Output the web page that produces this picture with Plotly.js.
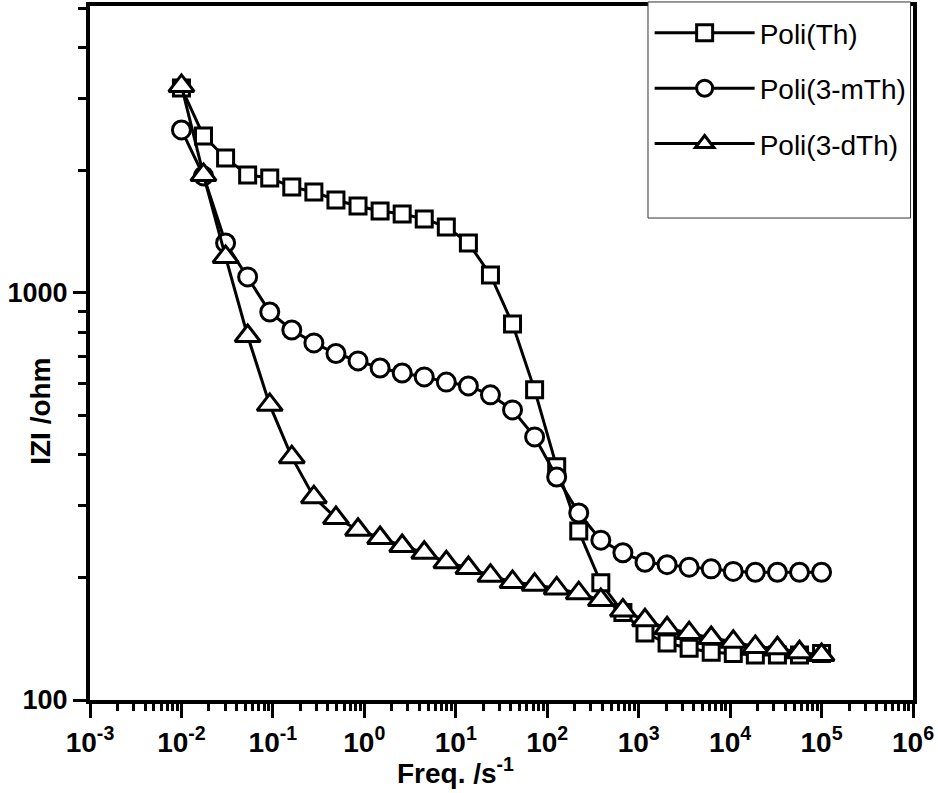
<!DOCTYPE html>
<html>
<head>
<meta charset="utf-8">
<script src="https://cdn.plot.ly/plotly-3.0.1.min.js"></script>
<style>html,body{margin:0;padding:0;background:#fff;}#chart{width:938px;height:793px;}</style>
</head>
<body>
<div id="chart"></div>
<script>
// Frequency (s^-1)
var freq = [0.01, 0.01742, 0.03039, 0.05298, 0.09237, 0.1610, 0.2807, 0.4894, 0.8532, 1.487,
            2.593, 4.520, 7.880, 13.74, 23.95, 41.75, 72.79, 126.9, 221.2, 385.7,
            672.4, 1172, 2044, 3563, 6212, 10830, 18880, 32910, 57380, 100000];
// |Z| (ohm) for each polymer
var zPoliTh = [3190, 2431, 2146, 1950, 1917, 1822, 1771, 1692, 1636, 1590,
               1564, 1520, 1453, 1327, 1107, 839, 578, 374, 260, 194,
               164, 146, 138, 134, 131, 130, 129, 129, 129, 130];
var zPoli3mTh = [2515, 1939, 1327, 1095, 898, 811, 754, 710, 681, 654,
                 636, 622, 604, 591, 562, 516, 443, 353, 288, 247,
                 230, 218, 215, 212, 210, 207, 206, 206, 206, 206];
var zPoli3dTh = [3226, 1950, 1226, 784, 531, 395, 315, 280, 262, 250,
                 239, 230, 218, 211, 202, 195, 192, 188, 183, 176,
                 166, 157, 150, 146, 142, 139, 135, 134, 131, 129];
var seriesNames = ['Poli(Th)', 'Poli(3-mTh)', 'Poli(3-dTh)'];
var xTickVals = [1e-3, 1e-2, 1e-1, 1, 10, 100, 1e3, 1e4, 1e5, 1e6];
var xTickText = ['10<sup>-3</sup>', '10<sup>-2</sup>', '10<sup>-1</sup>', '10<sup>0</sup>', '10<sup>1</sup>',
                 '10<sup>2</sup>', '10<sup>3</sup>', '10<sup>4</sup>', '10<sup>5</sup>', '10<sup>6</sup>'];
var yTickVals = [100, 1000];
var yTickText = ['100', '1000'];
var xTitle = 'Freq. /s<sup>-1</sup>';
var yTitle = 'IZI /ohm';

var FONT = 'Liberation Sans, Arial, sans-serif';
function mk(y, name, symbol, size, grp) {
  return {
    x: freq, y: y, name: name, type: 'scatter', mode: 'lines+markers',
    legendgroup: grp,
    line: {color: '#000', width: 3},
    marker: {symbol: symbol, size: size, color: '#fff', line: {color: '#000', width: 3}}
  };
}
var data = [
  mk(zPoliTh, seriesNames[0], 'square', 16, 'a'),
  mk(zPoli3mTh, seriesNames[1], 'circle', 18, 'b'),
  mk(zPoli3dTh, seriesNames[2], 'triangle-up', 22, 'c')
];
var layout = {
  width: 938, height: 793,
  margin: {l: 90, r: 25, t: 6, b: 93},
  paper_bgcolor: '#fff', plot_bgcolor: '#fff',
  font: {family: FONT, color: '#000'},
  showlegend: true,
  xaxis: {
    type: 'log', range: [-3, 6],
    tickmode: 'array', tickvals: xTickVals, ticktext: xTickText,
    tickfont: {size: 28, family: FONT, weight: 'bold'},
    ticks: 'outside', ticklen: 14, tickwidth: 3, tickcolor: '#000',
    minor: {dtick: 'D1', ticks: 'outside', ticklen: 7, tickwidth: 3, tickcolor: '#000', showgrid: false},
    showline: true, linewidth: 4, linecolor: '#000', mirror: true,
    showgrid: false, zeroline: false
  },
  yaxis: {
    type: 'log', range: [2, 3.705],
    tickmode: 'array', tickvals: yTickVals, ticktext: yTickText,
    tickfont: {size: 27, family: FONT, weight: 'bold'},
    ticks: 'outside', ticklen: 13, tickwidth: 3, tickcolor: '#000',
    minor: {dtick: 'D1', ticks: 'outside', ticklen: 8, tickwidth: 3, tickcolor: '#000', showgrid: false},
    showline: true, linewidth: 4, linecolor: '#000', mirror: true,
    showgrid: false, zeroline: false
  },
  legend: {
    x: 0.68, y: 0.997, xanchor: 'left', yanchor: 'top',
    bgcolor: 'rgba(0,0,0,0)', borderwidth: 0,
    font: {size: 28, family: FONT, color: '#000'},
    traceorder: 'grouped', tracegroupgap: 16, itemwidth: 100
  },
  shapes: [{
    type: 'rect', xref: 'paper', yref: 'paper', layer: 'above',
    x0: 0.678, x1: 0.997, y0: 0.6945, y1: 1.0058,
    line: {color: '#333', width: 1}, fillcolor: '#fff'
  }],
  annotations: [
    {text: '<b>' + yTitle + '</b>', xref: 'paper', yref: 'paper', x: -0.061, y: 0.4164,
     xanchor: 'center', yanchor: 'middle', textangle: -90, showarrow: false,
     font: {size: 28, family: FONT, color: '#000'}},
    {text: '<b>' + xTitle + '</b>', xref: 'paper', yref: 'paper', x: 0.4435, y: -0.1305,
     xanchor: 'center', yanchor: 'bottom', showarrow: false,
     font: {size: 28, family: FONT, color: '#000'}}
  ]
};
Plotly.newPlot('chart', data, layout, {displayModeBar: false, staticPlot: true});
</script>
</body>
</html>
